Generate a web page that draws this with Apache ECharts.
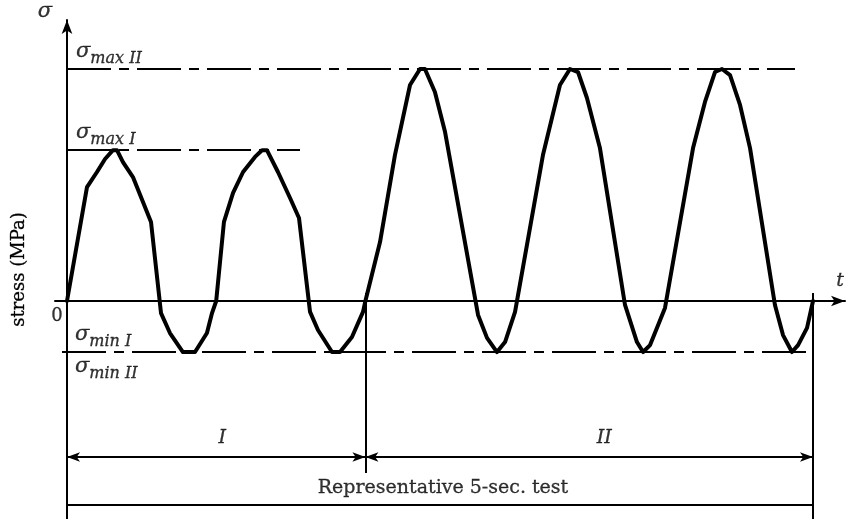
<!DOCTYPE html>
<html><head><meta charset="utf-8">
<script src="https://cdn.jsdelivr.net/npm/echarts@6/dist/echarts.min.js"></script>
<style>html,body{margin:0;padding:0;background:#fff}#c{width:848px;height:519px}</style>
</head><body><div id="c"></div>
<script>
// ---- data (time in s, stress in arbitrary MPa units) ----
const waveTime = [
  0, 0.134, 0.201, 0.255, 0.308, 0.335, 0.375, 0.442, 0.563, 0.630, 0.690, 0.777, 0.858, 0.938, 0.972,
  1.0, 1.052, 1.113, 1.180, 1.260, 1.307, 1.340, 1.414, 1.495, 1.555, 1.629, 1.682, 1.776, 1.830, 1.910, 1.984,
  2.0, 2.098, 2.198, 2.299, 2.366, 2.399, 2.466, 2.534, 2.755, 2.815, 2.882, 2.936, 3.003,
  3.190, 3.304, 3.371, 3.425, 3.485, 3.572, 3.740, 3.820, 3.861, 3.908, 4.008,
  4.196, 4.276, 4.343, 4.390, 4.444, 4.511, 4.578, 4.745, 4.799, 4.859, 4.900, 4.960, 5.0
];
const waveStress = [
  0, 49.1, 55.6, 61.2, 65, 65, 59.9, 53.4, 34.1, -5.2, -13.8, -22, -22, -13.8, -5.2,
  0, 34.1, 46.6, 55.6, 62.1, 65, 65, 55.6, 44.4, 35.8, -4.7, -12.5, -22, -22, -15.5, -4.7,
  0, 25.4, 62.9, 93.1, 100, 100, 90.1, 72.8, -6.0, -15.9, -22, -17.7, -4.7,
  62.9, 93.1, 100, 98.7, 87.5, 65.9, -1.7, -17.7, -22, -19.0, -3.0,
  65.9, 85.8, 98.7, 100, 97.4, 84.5, 65.9, -1.7, -14.7, -22, -19.0, -11.6, 0
];
const stressMaxI = 65;
const stressMaxII = 100;
const stressMin = -22;
const phaseBounds = [0, 2, 5];
const phaseNames = ['I', 'II'];
const testName = 'Representative 5-sec. test';
const yTitle = 'stress (MPa)';

// ---- layout helpers (in data units) ----
const PX = 2.32;            // stress units -> px
const TX = 149.2;           // seconds -> px
const xMin = -12 / TX, xMax = 778 / TX;
const yMin = -218 / PX, yMax = 281 / PX;
const dimY = -156 / PX;     // arrow dimension lines
const baseY = -204 / PX;    // bottom dimension line
const serif = '"DejaVu Serif", "Liberation Serif", serif';
const ink = { color: '#000', textBorderColor: '#000', textBorderWidth: 0.3 };

const wave = waveTime.map((t, i) => [t, waveStress[i]]);
const tEnd = phaseBounds[phaseBounds.length - 1];

const lvlStyle = { color: '#000', width: 2, type: [44, 8, 10, 8] };
const levelLines = [
  [{ coord: [0, stressMaxII] }, { coord: [728 / TX, stressMaxII] }],
  [{ coord: [0, stressMaxI] }, { coord: [233 / TX, stressMaxI] }],
  [{ coord: [-5 / TX, stressMin] }, { coord: [tEnd, stressMin] }]
];
const boundLines = [
  [{ coord: [phaseBounds[1], 8 / PX] }, { coord: [phaseBounds[1], -172 / PX] }],
  [{ coord: [tEnd, 8 / PX] }, { coord: [tEnd, yMin] }]
];
const dimLines = [];
for (let i = 0; i < phaseNames.length; i++) {
  dimLines.push([{ coord: [phaseBounds[i], dimY] }, { coord: [phaseBounds[i + 1], dimY] }]);
}
const baseLines = [[{ coord: [0, baseY] }, { coord: [tEnd, baseY] }]];

const sigmaRich = {
  s: Object.assign({ fontFamily: serif, fontStyle: 'italic', fontSize: 21, verticalAlign: 'top', lineHeight: 26 }, ink),
  sub: Object.assign({ fontFamily: serif, fontStyle: 'italic', fontSize: 16, verticalAlign: 'bottom', lineHeight: 26 }, ink)
};
function lab(x, y, text, align, vAlign, extra) {
  return {
    value: [x, y],
    label: Object.assign({
      show: true, position: [0, 0], align: align, verticalAlign: vAlign,
      formatter: text, fontFamily: serif, fontSize: 16, rich: sigmaRich
    }, ink, extra || {})
  };
}
const labels = [
  lab(-22 / TX, 289 / PX, 'σ', 'center', 'middle', { fontStyle: 'italic', fontSize: 21 }),
  lab(773 / TX, 20 / PX, 't', 'center', 'middle', { fontStyle: 'italic', fontSize: 19 }),
  lab(-10 / TX, -15 / PX, '0', 'center', 'middle', { fontSize: 18 }),
  lab(9 / TX, stressMaxII + 2 / PX, '{s|σ}{sub|max II}', 'left', 'bottom'),
  lab(9 / TX, stressMaxI + 2 / PX, '{s|σ}{sub|max I}', 'left', 'bottom'),
  lab(8 / TX, stressMin + 2 / PX, '{s|σ}{sub|min I}', 'left', 'bottom'),
  lab(8 / TX, stressMin - 4 / PX, '{s|σ}{sub|min II}', 'left', 'top'),
  lab((phaseBounds[0] + phaseBounds[1]) / 2 + 6 / TX, dimY + 19 / PX, phaseNames[0], 'center', 'middle', { fontStyle: 'italic', fontSize: 19 }),
  lab((phaseBounds[1] + phaseBounds[2]) / 2 + 15 / TX, dimY + 19 / PX, phaseNames[1], 'center', 'middle', { fontStyle: 'italic', fontSize: 19 }),
  lab(tEnd / 2 + 3 / TX, baseY + 17 / PX, testName, 'center', 'middle', { fontSize: 19 })
];

const chart = echarts.init(document.getElementById('c'), null, { renderer: 'canvas' });
chart.setOption({
  animation: false,
  backgroundColor: '#fff',
  grid: { left: 55, right: 3, top: 20, bottom: 0, containLabel: false, outerBoundsMode: 'none' },
  xAxis: {
    type: 'value', min: xMin, max: xMax,
    axisLine: { show: true, onZero: true, symbol: ['none', 'arrow'], symbolSize: [8, 14], lineStyle: { color: '#000', width: 2 } },
    axisTick: { show: false }, axisLabel: { show: false }, splitLine: { show: false }
  },
  yAxis: [{
    type: 'value', min: yMin, max: yMax,
    axisLine: { show: true, onZero: true, symbol: ['none', 'arrow'], symbolSize: [8, 14], lineStyle: { color: '#000', width: 2 } },
    axisTick: { show: false }, axisLabel: { show: false }, splitLine: { show: false }
  }, {
    type: 'value', min: yMin, max: yMax, position: 'left',
    axisLine: { show: false, onZero: false }, axisTick: { show: false }, axisLabel: { show: false }, splitLine: { show: false },
    name: yTitle, nameLocation: 'middle', nameGap: 27, nameRotate: 90,
    nameTextStyle: Object.assign({ fontFamily: serif, fontSize: 18 }, ink)
  }],
  series: [
    {
      type: 'line', name: 'levels', data: [], silent: true,
      markLine: { silent: true, symbol: ['none', 'none'], label: { show: false }, lineStyle: lvlStyle, data: levelLines, animation: false }
    },
    {
      type: 'line', name: 'bounds', data: [], silent: true,
      markLine: { silent: true, symbol: ['none', 'none'], label: { show: false }, lineStyle: { color: '#000', width: 2, type: 'solid' }, data: boundLines.concat(baseLines), animation: false }
    },
    {
      type: 'line', name: 'dims', data: [], silent: true,
      markLine: { silent: true, symbol: ['arrow', 'arrow'], symbolSize: [7, 13], label: { show: false }, lineStyle: { color: '#000', width: 2, type: 'solid' }, data: dimLines, animation: false }
    },
    {
      type: 'line', name: 'stress', data: wave, showSymbol: false, smooth: false, silent: true,
      lineStyle: { color: '#000', width: 4, join: 'round', cap: 'round' }
    },
    {
      type: 'scatter', name: 'labels', data: labels, symbolSize: 0, silent: true, clip: false,
      itemStyle: { color: 'transparent' }
    }
  ]
});
</script></body></html>
